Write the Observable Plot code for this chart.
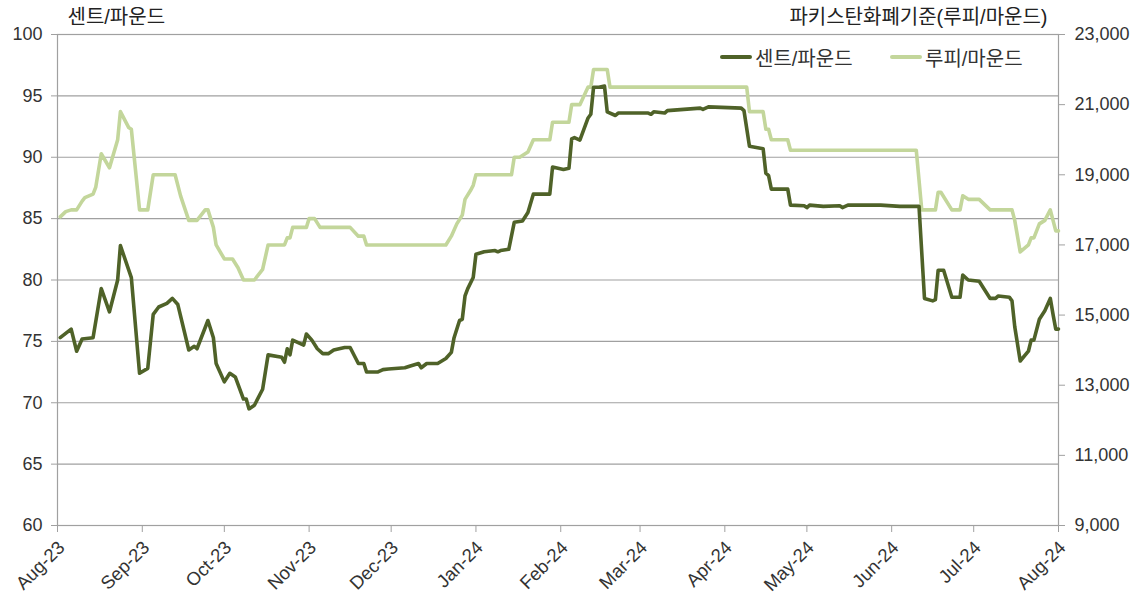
<!DOCTYPE html>
<html>
<head>
<meta charset="utf-8">
<script src="https://cdn.jsdelivr.net/npm/d3@7"></script>
<script src="https://cdn.jsdelivr.net/npm/@observablehq/plot@0.6"></script>
<style>
  body { margin: 0; background: #fff; }
  #wrap { position: relative; width: 1140px; height: 594px; font-family: "Liberation Sans", "Noto Sans CJK KR", sans-serif; }
  .item { position: absolute; top: 46px; height: 22px; display: flex; align-items: center; font-size: 20px; color: #333; white-space: nowrap; }
  .sw { display: inline-block; width: 32px; height: 4px; border-radius: 2px; margin-right: 3px; }
</style>
</head>
<body>
<div id="wrap"></div>
<script>
// ---- data ----
const leftTitle = "센트/파운드";
const rightTitle = "파키스탄화폐기준(루피/마운드)";
const seriesNames = ["센트/파운드", "루피/마운드"];
const seriesColors = ["#4f6228", "#c3d69b"];

const leftTicks = [60, 65, 70, 75, 80, 85, 90, 95, 100];
const rightTicks = [9000, 11000, 13000, 15000, 17000, 19000, 21000, 23000];
const xTickDates = ["2023-08-01","2023-09-01","2023-10-01","2023-11-01","2023-12-01","2024-01-01","2024-02-01","2024-03-01","2024-04-01","2024-05-01","2024-06-01","2024-07-01","2024-08-01"];
const xTickLabels = ["Aug-23","Sep-23","Oct-23","Nov-23","Dec-23","Jan-24","Feb-24","Mar-24","Apr-24","May-24","Jun-24","Jul-24","Aug-24"];

const centsDates = ["2023-08-02","2023-08-06","2023-08-08","2023-08-10","2023-08-14","2023-08-17","2023-08-20","2023-08-23","2023-08-24","2023-08-28","2023-08-31",
"2023-09-03","2023-09-05","2023-09-07","2023-09-10","2023-09-12","2023-09-14","2023-09-18","2023-09-20","2023-09-21","2023-09-25","2023-09-27","2023-09-28",
"2023-10-01","2023-10-03","2023-10-05","2023-10-08","2023-10-09","2023-10-10","2023-10-12","2023-10-15","2023-10-17","2023-10-22","2023-10-23","2023-10-24","2023-10-25","2023-10-26","2023-10-30","2023-10-31",
"2023-11-02","2023-11-04","2023-11-06","2023-11-08","2023-11-10","2023-11-14","2023-11-16","2023-11-19","2023-11-21","2023-11-22","2023-11-26","2023-11-28","2023-11-30",
"2023-12-06","2023-12-08","2023-12-11","2023-12-12","2023-12-14","2023-12-18","2023-12-21","2023-12-23","2023-12-24","2023-12-26","2023-12-27","2023-12-28","2023-12-29","2023-12-31",
"2024-01-01","2024-01-04","2024-01-08","2024-01-09","2024-01-10","2024-01-13","2024-01-15","2024-01-18","2024-01-20","2024-01-22","2024-01-28","2024-01-29","2024-01-31",
"2024-02-02","2024-02-04","2024-02-05","2024-02-06","2024-02-08","2024-02-11","2024-02-12","2024-02-13","2024-02-15","2024-02-17","2024-02-18","2024-02-21","2024-02-22","2024-02-28",
"2024-03-04","2024-03-05","2024-03-06","2024-03-10","2024-03-11","2024-03-17","2024-03-23","2024-03-24","2024-03-26",
"2024-04-07","2024-04-08","2024-04-10","2024-04-15","2024-04-16","2024-04-17","2024-04-18","2024-04-24","2024-04-25","2024-04-30",
"2024-05-01","2024-05-02","2024-05-07","2024-05-13","2024-05-14","2024-05-16","2024-05-28",
"2024-06-04","2024-06-11","2024-06-13","2024-06-16","2024-06-17","2024-06-18","2024-06-20","2024-06-23","2024-06-26","2024-06-27","2024-06-29",
"2024-07-03","2024-07-07","2024-07-09","2024-07-10","2024-07-14","2024-07-15","2024-07-16","2024-07-18","2024-07-21","2024-07-22","2024-07-23","2024-07-25","2024-07-27","2024-07-29","2024-07-30","2024-07-31","2024-08-01"];
const centsValues = [75.3,76.0,74.2,75.2,75.3,79.3,77.4,80.0,82.8,80.2,72.4,
72.8,77.2,77.8,78.1,78.5,78.0,74.3,74.6,74.4,76.7,75.3,73.2,
71.7,72.4,72.1,70.3,70.3,69.5,69.8,71.1,73.9,73.7,73.3,74.4,73.9,75.1,74.7,75.6,
75.1,74.4,74.0,74.0,74.3,74.5,74.5,73.2,73.2,72.5,72.5,72.7,72.75,
72.85,73.0,73.2,72.85,73.2,73.2,73.6,74.1,75.3,76.7,76.8,78.7,79.3,80.2,
82.1,82.3,82.4,82.3,82.4,82.5,84.7,84.8,85.5,87.0,87.0,89.2,89.1,
89.0,89.1,91.5,91.6,91.4,93.2,93.5,95.7,95.7,95.8,93.7,93.4,93.6,93.6,
93.6,93.5,93.7,93.6,93.8,93.9,94.0,93.9,94.1,
94.0,93.8,90.9,90.7,88.7,88.5,87.4,87.4,86.1,86.05,
85.9,86.1,86.0,86.05,85.9,86.1,86.1,
86.0,86.0,78.5,78.3,78.4,80.8,80.8,78.6,78.6,80.4,80.0,
79.9,78.5,78.5,78.7,78.6,78.3,76.2,73.4,74.2,75.1,75.1,76.8,77.5,78.5,77.2,76.0,76.0];

const rupeeDates = ["2023-08-02","2023-08-04","2023-08-06","2023-08-08","2023-08-10","2023-08-11","2023-08-14","2023-08-15","2023-08-17","2023-08-20","2023-08-23","2023-08-24","2023-08-27","2023-08-28","2023-08-31",
"2023-09-03","2023-09-05","2023-09-13","2023-09-15","2023-09-18","2023-09-21","2023-09-24","2023-09-25","2023-09-27","2023-09-28",
"2023-10-01","2023-10-04","2023-10-06","2023-10-08","2023-10-12","2023-10-15","2023-10-17","2023-10-23","2023-10-24","2023-10-25","2023-10-26","2023-10-31",
"2023-11-01","2023-11-03","2023-11-05","2023-11-16","2023-11-19","2023-11-21","2023-11-22",
"2023-12-21","2023-12-23","2023-12-25","2023-12-27","2023-12-28","2023-12-30","2023-12-31",
"2024-01-01","2024-01-14","2024-01-15","2024-01-17","2024-01-20","2024-01-22","2024-01-28","2024-01-29",
"2024-02-04","2024-02-05","2024-02-08","2024-02-11","2024-02-12","2024-02-13","2024-02-18","2024-02-19",
"2024-04-09","2024-04-10","2024-04-15","2024-04-16","2024-04-17","2024-04-18","2024-04-24","2024-04-25",
"2024-06-10","2024-06-12","2024-06-17","2024-06-18","2024-06-19","2024-06-23","2024-06-26","2024-06-27","2024-06-29",
"2024-07-03","2024-07-07","2024-07-15","2024-07-16","2024-07-18","2024-07-21","2024-07-22","2024-07-23","2024-07-25","2024-07-27","2024-07-29","2024-07-30","2024-07-31","2024-08-01"];
const rupeeValues = [17800,17950,18000,18000,18250,18350,18450,18650,19600,19200,20000,20800,20350,20300,18000,
18000,19000,19000,18400,17700,17700,18000,18000,17500,17000,
16600,16600,16350,16000,16000,16300,17000,17000,17200,17200,17500,17500,
17750,17750,17500,17500,17250,17250,17000,
17000,17250,17600,17850,18300,18550,18700,
19000,19000,19500,19500,19650,20000,20000,20500,
20500,21000,21000,21500,21500,22000,22000,21500,
21500,20800,20800,20300,20300,20000,20000,19700,
19700,18000,18000,18500,18500,18000,18000,18400,18300,
18300,18000,18000,17700,16800,17000,17200,17200,17600,17700,18000,17700,17400,17400];

// ---- build ----
const cents = centsDates.map((d, i) => ({date: new Date(d), value: centsValues[i]}));
const rupee = rupeeDates.map((d, i) => ({date: new Date(d), value: rupeeValues[i]}));

const [lMin, lMax] = [leftTicks[0], leftTicks[leftTicks.length - 1]];
const [rMin, rMax] = [rightTicks[0], rightTicks[rightTicks.length - 1]];
const toLeft = r => lMin + (r - rMin) * (lMax - lMin) / (rMax - rMin);
const fromLeft = v => rMin + (v - lMin) * (rMax - rMin) / (lMax - lMin);

const xTicks = xTickDates.map(d => new Date(d));
const labelOf = new Map(xTicks.map((d, i) => [+d, xTickLabels[i]]));
const fmt = d3.format(",");

const FONT = '"Liberation Sans", "Noto Sans CJK KR", sans-serif';

const chart = Plot.plot({
  width: 1140,
  height: 594,
  marginTop: 34,
  marginBottom: 69,
  marginLeft: 57,
  marginRight: 82,
  style: {fontFamily: FONT, fontSize: "18px", color: "#333", background: "#fff", overflow: "visible"},
  x: {type: "utc", domain: [xTicks[0], xTicks[xTicks.length - 1]]},
  y: {domain: [lMin, lMax]},
  marks: [
    Plot.gridY(leftTicks, {stroke: "#a0a0a0", strokeOpacity: 1, strokeWidth: 1.2}),
    Plot.frame({stroke: "#a0a0a0", strokeWidth: 1.2}),
    Plot.axisY(leftTicks, {anchor: "left", tickSize: 6, tickPadding: 9, stroke: "#a0a0a0", fill: "#333", fontSize: 18, label: null}),
    Plot.axisY(rightTicks.map(toLeft), {anchor: "right", tickSize: 6, tickPadding: 10, stroke: "#a0a0a0", fill: "#333", fontSize: 18, label: null,
      tickFormat: v => fmt(Math.round(fromLeft(v)))}),
    // x tick marks
    Plot.axisX(xTicks, {anchor: "bottom", tickSize: 7, stroke: "#a0a0a0", label: null, tickFormat: () => ""}),
    // x tick labels (rotated)
    Plot.axisX(xTicks, {anchor: "bottom", tickSize: 0, tickPadding: 19, dx: 4, tickRotate: -45, fill: "#333", fontSize: 18.5, label: null,
      tickFormat: d => labelOf.get(+d)}),
    Plot.line(rupee, {x: "date", y: d => toLeft(d.value), stroke: seriesColors[1], strokeWidth: 3.6, strokeLinejoin: "round", strokeLinecap: "round"}),
    Plot.line(cents, {x: "date", y: "value", stroke: seriesColors[0], strokeWidth: 3.6, strokeLinejoin: "round", strokeLinecap: "round"}),
    Plot.text([leftTitle], {frameAnchor: "top-left", dx: 10, dy: -17, textAnchor: "start", lineAnchor: "middle", fontSize: 20, fill: "#222"}),
    Plot.text([rightTitle], {frameAnchor: "top-right", dx: -11, dy: -17, textAnchor: "end", lineAnchor: "middle", fontSize: 20, fill: "#222"})
  ]
});

const wrap = document.getElementById("wrap");
wrap.appendChild(chart);

const legendLeft = [720, 890];
seriesNames.forEach((name, i) => {
  const item = document.createElement("div");
  item.className = "item";
  item.style.left = legendLeft[i] + "px";
  const sw = document.createElement("span");
  sw.className = "sw";
  sw.style.background = seriesColors[i];
  item.appendChild(sw);
  item.appendChild(document.createTextNode(name));
  wrap.appendChild(item);
});
</script>
</body>
</html>
